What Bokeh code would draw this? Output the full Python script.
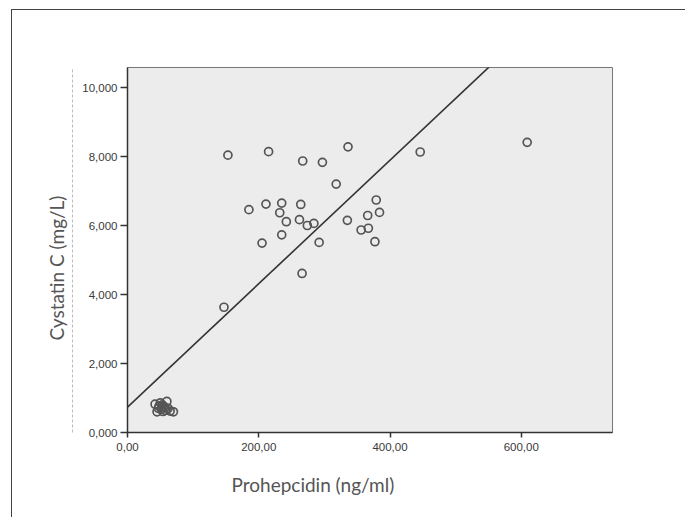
import numpy as np
from bokeh.plotting import figure
from bokeh.models import (Range1d, FixedTicker, CustomJSTickFormatter, LinearAxis,
                          Title, ColumnDataSource)
from bokeh.embed import file_html
from bokeh.resources import INLINE

# ---- data ----
prohepcidin = [42, 45, 47, 48, 50, 52, 53, 54, 55, 57, 58, 60, 62, 65, 70,
               147, 153, 185, 205, 211, 215, 232, 235, 235, 242, 262, 264, 266, 267,
               274, 284, 292, 297, 318, 335, 336, 356, 366, 367, 377, 379, 384, 446, 609]
cystatin = [0.82, 0.60, 0.70, 0.76, 0.86, 0.67, 0.80, 0.61, 0.76, 0.72, 0.64, 0.90, 0.70, 0.62, 0.60,
            3.63, 8.04, 6.46, 5.49, 6.62, 8.14, 6.37, 6.65, 5.73, 6.11, 6.17, 6.61, 4.61, 7.87,
            6.00, 6.06, 5.51, 7.83, 7.20, 6.15, 8.28, 5.87, 6.29, 5.92, 5.53, 6.74, 6.38, 8.13, 8.41]
fit_intercept = 0.733
fit_slope = 0.0179
x_ticks = [0, 200, 400, 600]
y_ticks = [0, 2, 4, 6, 8, 10]
x_title = "Prohepcidin (ng/ml)"
y_title = "Cystatin C (mg/L)"

X_MAX = 739
Y_MAX = 10.58

p = figure(width=674, height=508, output_backend="svg", toolbar_location=None,
           x_range=Range1d(0, X_MAX), y_range=Range1d(0, Y_MAX),
           min_border_left=115, min_border_right=74, min_border_top=57, min_border_bottom=86)
p.styles = {"margin-left": "11px", "margin-top": "9px",
            "border-left": "1.5px solid #444", "border-top": "1.5px solid #444"}

p.background_fill_color = "#ececec"
p.border_fill_color = "white"
p.outline_line_color = "#777"
p.outline_line_width = 1
p.xgrid.visible = False
p.ygrid.visible = False

# regression line
xl = np.array([0, X_MAX])
p.line(xl, fit_intercept + fit_slope * xl, line_color="#333333", line_width=1.6)

src = ColumnDataSource(dict(x=prohepcidin, y=cystatin))
p.scatter("x", "y", source=src, size=8, fill_color=None, line_color="#555555", line_width=1.7)

for ax in (p.xaxis[0], p.yaxis[0]):
    ax.axis_line_color = "#333333"
    ax.axis_line_width = 1.5
    ax.major_tick_line_color = "#333333"
    ax.major_tick_line_width = 1.5
    ax.major_tick_in = 0
    ax.minor_tick_line_color = None
    ax.major_label_text_font = "Liberation Sans"
    ax.major_label_text_font_size = "11.5px"
    ax.major_label_text_color = "#3a3a3a"

p.xaxis[0].ticker = FixedTicker(ticks=x_ticks)
p.yaxis[0].ticker = FixedTicker(ticks=y_ticks)
p.xaxis[0].major_tick_out = 5
p.yaxis[0].major_tick_out = 7
p.xaxis[0].major_label_standoff = 5
p.yaxis[0].major_label_standoff = 3
p.xaxis[0].formatter = CustomJSTickFormatter(code="return tick.toFixed(2).replace('.', ',');")
p.yaxis[0].formatter = CustomJSTickFormatter(code="return tick.toFixed(3).replace('.', ',');")
# blank label only to widen the panel so the dashed guide sits further left
p.yaxis[0].axis_label = " "
p.yaxis[0].axis_label_text_font_size = "3px"
p.yaxis[0].axis_label_standoff = 0

# dashed guide line left of the y tick labels
dash_ax = LinearAxis(ticker=FixedTicker(ticks=[]), axis_line_color="#bbbbbb",
                     axis_line_dash="3 2", axis_line_width=1,
                     major_tick_line_color=None, minor_tick_line_color=None,
                     major_label_text_font_size="0px")
p.add_layout(dash_ax, "left")

p.add_layout(Title(text=x_title, align="left", offset=104, standoff=34,
                   text_font="Lato", text_font_size="19px", text_font_style="normal",
                   text_color="#555555"), "below")
p.add_layout(Title(text=y_title, align="left", offset=92, standoff=9,
                   text_font="Lato", text_font_size="19px", text_font_style="normal",
                   text_color="#555555"), "left")

open("out.html", "w").write(file_html(p, INLINE))
